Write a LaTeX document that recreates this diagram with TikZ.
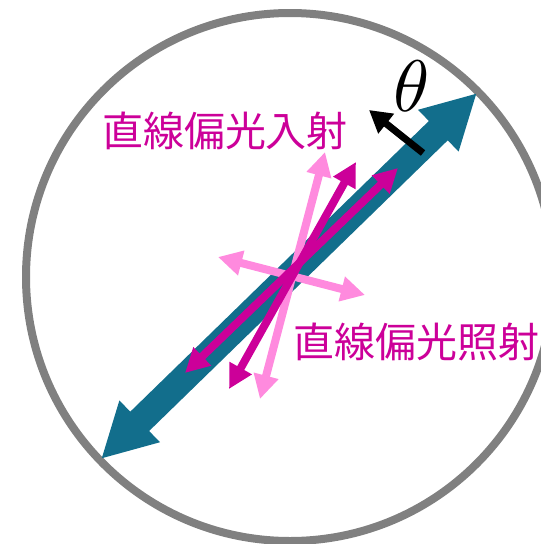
\documentclass[tikz,border=0pt]{standalone}
\usepackage{fontspec}
\usepackage{graphicx}
\newfontfamily\jpfont{Noto Sans CJK JP}
\usetikzlibrary{arrows.meta}
\definecolor{ringgray}{RGB}{128,128,128}
\definecolor{bigteal}{RGB}{18,110,140}
\definecolor{darkmag}{RGB}{204,0,153}
\definecolor{lightpink}{RGB}{255,138,222}
\tikzset{
  ring/.style={draw=ringgray,line width=8pt},
  bigarrow/.style={draw=bigteal,line width=27pt,
     {Triangle[width=54pt,length=54pt]}-{Triangle[width=54pt,length=54pt]}},
  magarrow/.style={draw=darkmag,line width=8pt,
     {Triangle[width=24pt,length=24pt]}-{Triangle[width=24pt,length=24pt]}},
  pinkarrow/.style={draw=lightpink,line width=8pt,
     {Triangle[width=24pt,length=24pt]}-{Triangle[width=24pt,length=24pt]}},
  anglearrow/.style={draw=black,line width=7pt,-{Triangle[width=24pt,length=22pt]}},
  jplabel/.style={text=darkmag,font=\jpfont\fontsize{41}{41}\selectfont,inner sep=0pt},
}
\begin{document}
\begin{tikzpicture}[x=1pt,y=-1pt]
\useasboundingbox (0,0) rectangle (541,544);
\clip (0,0) rectangle (541,544);
\coordinate (c) at (290,277);
\draw[ring] (c) circle (264pt);
% big teal arrow
\coordinate (tA) at (101,459);
\coordinate (tB) at (477,93);
\draw[bigarrow] (tA) -- (tB);
% light pink arrows
\coordinate (hA) at (218,257);
\coordinate (hB) at (365,295);
\draw[pinkarrow] (hA) -- (hB);
\coordinate (vA) at (260,399);
\coordinate (vB) at (325,152);
\draw[pinkarrow] (vA) -- (vB);
% dark magenta arrows
\coordinate (sA) at (229,389);
\coordinate (sB) at (356,162);
\draw[magarrow] (sA) -- (sB);
\coordinate (dA) at (185,373);
\coordinate (dB) at (398,168);
\draw[magarrow] (dA) -- (dB);
% theta arrow
\coordinate (aA) at (423,153);
\coordinate (aB) at (369,110);
\draw[anglearrow] (aA) -- (aB);
\node[inner sep=0pt] (theta) at (412,86) {\scalebox{7.3}{$\theta$}};
% labels
\node[jplabel] (lin) at (225,131) {直線偏光入射};
\node[jplabel] (lout) at (416,342) {直線偏光照射};
\end{tikzpicture}
\end{document}
